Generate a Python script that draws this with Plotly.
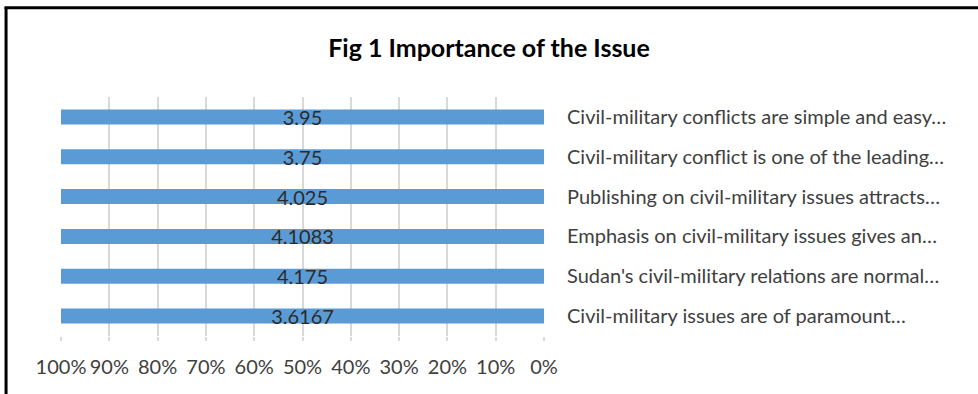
import plotly.graph_objects as go

# Data (bottom to top, as in the Excel chart)
categories = [
    "Civil-military issues are of paramount…",
    "Sudan's civil-military relations are normal…",
    "Emphasis on civil-military issues gives an…",
    "Publishing on civil-military issues attracts…",
    "Civil-military conflict is one of the leading…",
    "Civil-military conflicts are simple and easy…",
]
values = [3.6167, 4.175, 4.1083, 4.025, 3.75, 3.95]
value_labels = ["3.6167", "4.175", "4.1083", "4.025", "3.75", "3.95"]
title_text = "Fig 1 Importance of the Issue"

W, H = 978, 394
L, R, T, B = 61, 433.5, 96.5, 57.5
pw = W - L - R
ph = H - T - B

FONT = "Lato"
TXT = "#404040"

fig = go.Figure()
fig.add_trace(go.Bar(
    y=categories,
    x=values,
    orientation="h",
    marker=dict(color="#5b9bd5", line=dict(width=0)),
    text=value_labels,
    textposition="inside",
    insidetextanchor="middle",
    constraintext="none",
    textangle=0,
    insidetextfont=dict(family=FONT, size=20, color="#2b2b2b"),
    width=0.375,
    hoverinfo="skip",
))

def px_x(px):
    return (px - L) / pw

def px_y(py):
    return (H - B - py) / ph

fig.update_layout(
    width=W, height=H,
    margin=dict(l=L, r=R, t=T, b=B, pad=0),
    paper_bgcolor="white",
    plot_bgcolor="white",
    barmode="stack",
    barnorm="percent",
    showlegend=False,
    font=dict(family=FONT, color=TXT, size=20),
    title=dict(
        text=title_text,
        font=dict(family=FONT, size=25, color="#000000", weight="bold"),
        x=0.5, xref="container", xanchor="center",
        y=1 - 48 / H, yref="container", yanchor="middle",
    ),
    xaxis=dict(
        range=[100, 0],
        dtick=10,
        tick0=0,
        ticksuffix="%",
        showgrid=True,
        gridcolor="#d9d9d9",
        gridwidth=1.5,
        zeroline=False,
        showline=False,
        ticks="outside",
        ticklen=4,
        tickcolor="#d9d9d9",
        tickwidth=1.5,
        tickfont=dict(family=FONT, size=20, color=TXT),
        ticklabelstandoff=9,
        fixedrange=True,
    ),
    yaxis=dict(
        side="right",
        categoryorder="array",
        categoryarray=categories,
        showgrid=False,
        zeroline=False,
        showline=False,
        ticks="",
        tickfont=dict(family=FONT, size=20, color=TXT),
        ticklabelstandoff=22,
        fixedrange=True,
    ),
    shapes=[
        dict(type="line", xref="paper", yref="paper",
             x0=px_x(6), x1=px_x(6), y0=px_y(6), y1=px_y(H + 5),
             line=dict(color="black", width=3)),
        dict(type="line", xref="paper", yref="paper",
             x0=px_x(4.5), x1=px_x(W + 5), y0=px_y(7), y1=px_y(7),
             line=dict(color="black", width=3)),
    ],
)

fig.write_html("out.html", config={"displayModeBar": False})
